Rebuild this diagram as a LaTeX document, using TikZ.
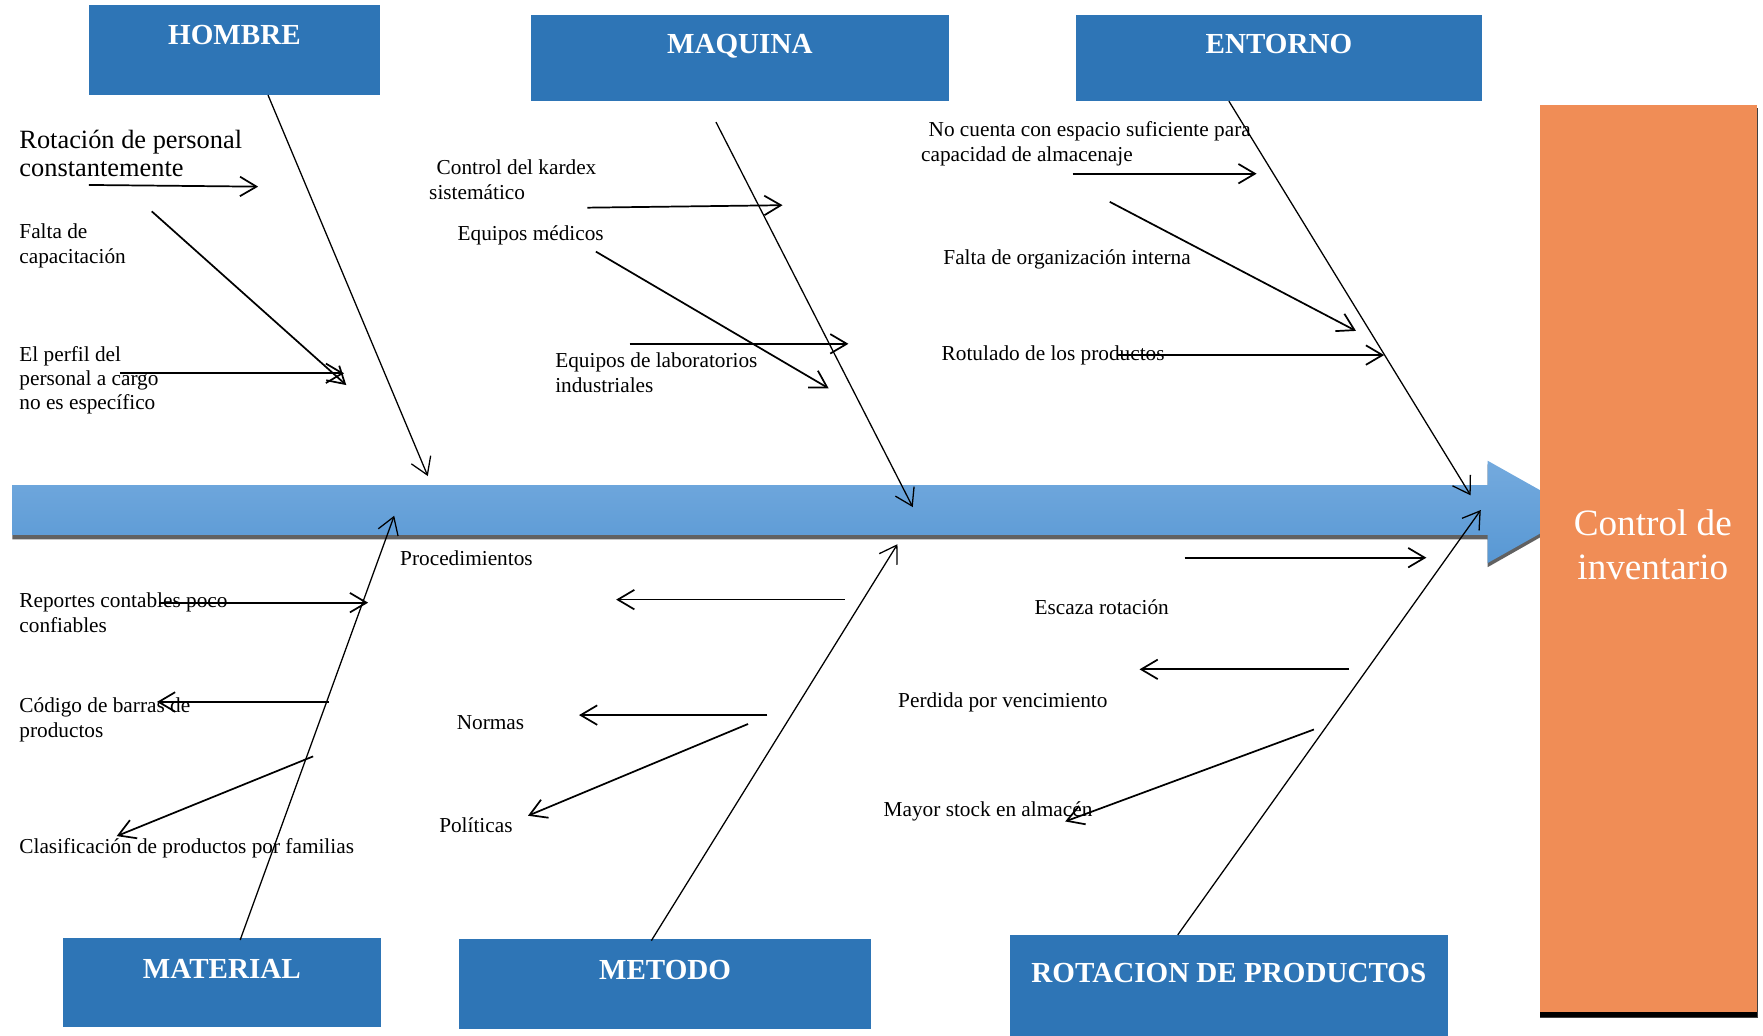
\documentclass[tikz,border=0pt]{standalone}
\usepackage{fontspec}
\setmainfont{Liberation Serif}
\usepackage{tikz}
\usetikzlibrary{arrows.meta}

\definecolor{boxblue}{HTML}{2E75B6}
\definecolor{spinetop}{HTML}{74AADE}
\definecolor{spinebot}{HTML}{5898D4}
\definecolor{resultorange}{HTML}{F08D56}

\tikzset{
  catbox/.style={fill=boxblue, text=white, inner sep=0pt, outer sep=0pt, anchor=north west,
    font=\fontsize{19.4}{22}\selectfont\bfseries},
  cause/.style={anchor=base west, align=left, inner sep=0pt, font=\fontsize{14.2}{16.3}\selectfont},
  bigcause/.style={cause, font=\fontsize{17.6}{19}\selectfont},
  bone/.style={line width=0.85pt, -{Straight Barb[length=11pt, width=14pt]}},
  sub/.style={line width=1.15pt, -{Straight Barb[length=11pt, width=13pt]}},
}

\begin{document}
\begin{tikzpicture}[x=0.75pt, y=-0.75pt]
\useasboundingbox (0,0) rectangle (1568,921);
% spine
\fill[black!62] (11,435) -- (1323,435) -- (1323,413) -- (1404,458.5) -- (1323,504.5) -- (1323,479.6) -- (11,479.6) -- cycle;
\shade[top color=spinetop, bottom color=spinebot] (11.3,431.4) -- (1323,431.4) -- (1323,409.7) -- (1404,455.25) -- (1323,500.8) -- (1323,475.8) -- (11.3,475.8) -- cycle;
% effect
\fill[black!75] (1369.3,96.3) rectangle (1563.7,905);
\node[fill=resultorange, inner sep=0pt, outer sep=0pt, anchor=north west, minimum width=144.75pt, minimum height=605.2pt] (result) at (1370,93.4) {};
\fill[black] (1370,900.3) rectangle (1563,904.3);
\node[text=white, align=center, font=\fontsize{24.8}{29}\selectfont] (resultlabel) at (1470,484.5) {Control de\\inventario};
% categories
\node[catbox, minimum width=194.25pt, minimum height=60.1pt, text height=26.7pt, text depth=33.4pt] (hombre) at (79,4.4) {HOMBRE};
\node[catbox, minimum width=279pt, minimum height=57.4pt, text height=25.5pt, text depth=31.9pt] (maquina) at (472,13.4) {MAQUINA};
\node[catbox, minimum width=270.75pt, minimum height=57.4pt, text height=25.5pt, text depth=31.9pt] (entorno) at (957,13.4) {ENTORNO};
\node[catbox, minimum width=212pt, minimum height=59.25pt, text height=27.3pt, text depth=31.95pt] (material) at (56,834) {MATERIAL};
\node[catbox, minimum width=274.5pt, minimum height=60pt, text height=27.3pt, text depth=32.7pt] (metodo) at (408.5,835) {METODO};
\node[catbox, minimum width=292.4pt, minimum height=67.1pt, text height=31.5pt, text depth=35.6pt] (rotacion) at (898,831.5) {ROTACION DE PRODUCTOS};
% causes (multi-line texts are set on their last baseline)
\node[bigcause] (personal) at (17,157) {Rotación de personal\\constantemente};
\node[cause] (capacitacion) at (17,234) {Falta de\\capacitación};
\node[cause] (perfil) at (17,364.6) {El perfil del\\personal a cargo\\no es específico};
\node[cause] (kardex) at (381.5,177.3) {\hspace*{5pt}Control del kardex\\sistemático};
\node[cause] (medicos) at (406.8,213.8) {Equipos médicos};
\node[cause] (laboratorios) at (493.6,348.9) {Equipos de laboratorios\\industriales};
\node[cause] (espacio) at (819,143.5) {\hspace*{5pt}No cuenta con espacio suficiente para\\capacidad de almacenaje};
\node[cause] (organizacion) at (838.8,235.5) {Falta de organización interna};
\node[cause] (rotulado) at (837.3,320.5) {Rotulado de los productos};
\node[cause] (procedimientos) at (355.7,503) {Procedimientos};
\node[cause] (reportes) at (17,562.3) {Reportes contables poco\\confiables};
\node[cause] (codigo) at (17,655.5) {Código de barras de\\productos};
\node[cause] (clasificacion) at (17,759) {Clasificación de productos por familias};
\node[cause] (normas) at (406,648.5) {Normas};
\node[cause] (politicas) at (390.4,740) {Políticas};
\node[cause] (escaza) at (919.9,546.5) {Escaza rotación};
\node[cause] (perdida) at (798.6,629.5) {Perdida por vencimiento};
\node[cause] (stock) at (785.7,726) {Mayor stock en almacén};
% arrow ends
\coordinate (hombreend) at (380.5,423.4);
\coordinate (maquinaend) at (811.8,451);
\coordinate (entornoend) at (1308,440.6);
\coordinate (materialend) at (350.6,458.7);
\coordinate (metodoend) at (798.2,484);
\coordinate (rotacionend) at (1317,453.6);
\coordinate (h1a) at (79,164.5);    \coordinate (h1b) at (229.6,166);
\coordinate (h2a) at (135,188);     \coordinate (h2b) at (308,342.5);
\coordinate (h3a) at (107,332);     \coordinate (h3b) at (306,332);
\coordinate (m1a) at (522.5,184.7); \coordinate (m1b) at (696,182.5);
\coordinate (m2a) at (530,223.8);   \coordinate (m2b) at (737,345.4);
\coordinate (m3a) at (560,305.8);   \coordinate (m3b) at (754.6,305.8);
\coordinate (e1a) at (954,154.5);   \coordinate (e1b) at (1117.6,154.5);
\coordinate (e2a) at (987,179.5);   \coordinate (e2b) at (1206,294.3);
\coordinate (e3a) at (994.7,315.8); \coordinate (e3b) at (1231,315.8);
\coordinate (a1a) at (141,536);     \coordinate (a1b) at (327.4,536);
\coordinate (a2a) at (292.7,624.3); \coordinate (a2b) at (139.6,624.3);
\coordinate (a3a) at (278.5,672.7); \coordinate (a3b) at (103.8,743.6);
\coordinate (t1a) at (751.2,533.3); \coordinate (t1b) at (548,533.3);
\coordinate (t2a) at (682.5,636);   \coordinate (t2b) at (515,636);
\coordinate (t3a) at (665.3,643.9); \coordinate (t3b) at (469.6,725.5);
\coordinate (r1a) at (1053.6,496);  \coordinate (r1b) at (1268.6,496);
\coordinate (r2a) at (1199.8,595.3);\coordinate (r2b) at (1013.5,595.3);
\coordinate (r3a) at (1168.6,648.8);\coordinate (r3b) at (947.4,730.6);
% bones
\draw[bone] ([xshift=22.4pt]hombre.south) -- (hombreend);
\draw[bone] ([xshift=-15.9pt, yshift=-14pt]maquina.south) -- (maquinaend);
\draw[bone] ([xshift=-33.4pt]entorno.south) -- (entornoend);
\draw[bone] ([xshift=12.2pt, yshift=-1.5pt]material.north) -- (materialend);
\draw[bone] ([xshift=-9.15pt, yshift=-1.2pt]metodo.north) -- (metodoend);
\draw[bone] ([xshift=-34.1pt]rotacion.north) -- (rotacionend);
% sub causes
\draw[sub] (h1a) -- (h1b);
\draw[sub] (h2a) -- (h2b);
\draw[sub] (h3a) -- (h3b);
\draw[sub] (m1a) -- (m1b);
\draw[sub] (m2a) -- (m2b);
\draw[sub] (m3a) -- (m3b);
\draw[sub] (e1a) -- (e1b);
\draw[sub] (e2a) -- (e2b);
\draw[sub] (e3a) -- (e3b);
\draw[sub] (a1a) -- (a1b);
\draw[sub] (a2a) -- (a2b);
\draw[sub] (a3a) -- (a3b);
\draw[sub] (t1a) -- (t1b);
\draw[sub] (t2a) -- (t2b);
\draw[sub] (t3a) -- (t3b);
\draw[sub] (r1a) -- (r1b);
\draw[sub] (r2a) -- (r2b);
\draw[sub] (r3a) -- (r3b);
\end{tikzpicture}
\end{document}
